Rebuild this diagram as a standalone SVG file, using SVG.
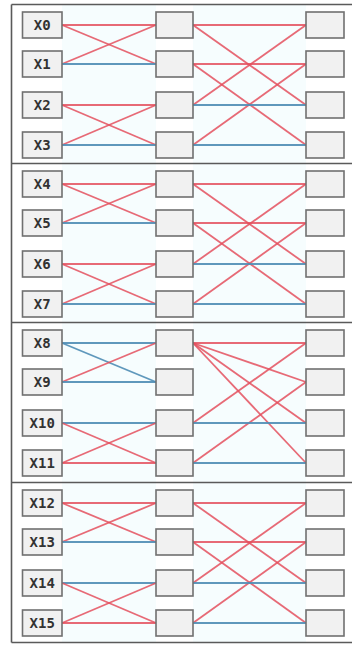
<svg xmlns="http://www.w3.org/2000/svg" width="360" height="645" viewBox="0 0 360 645">
<style>
.bx{fill:#f1f1f1;stroke:#707070;stroke-width:1.6}
.lb{font-family:"DejaVu Sans Mono","Liberation Mono",monospace;font-size:14px;font-weight:bold;fill:#333333;text-anchor:middle}
.r{stroke:#e4505e;stroke-width:1.8;fill:none;stroke-opacity:0.85}
.b{stroke:#4f8db5;stroke-width:1.8;fill:none;stroke-opacity:0.9}
.fr{stroke:#5a5a5a;stroke-width:1.6;fill:none}
.tint{fill:#f6fdfe}
</style>
<rect width="360" height="645" fill="#ffffff"/>
<g id="tints">
<rect class="tint" x="62" y="5" width="94" height="158"/>
<rect class="tint" x="193" y="5" width="113" height="158"/>
<rect class="tint" x="62" y="164" width="94" height="158"/>
<rect class="tint" x="193" y="164" width="113" height="158"/>
<rect class="tint" x="62" y="323" width="94" height="159"/>
<rect class="tint" x="193" y="323" width="113" height="159"/>
<rect class="tint" x="62" y="483" width="94" height="159"/>
<rect class="tint" x="193" y="483" width="113" height="159"/>
</g>
<g id="frame">
<line class="fr" x1="11.5" y1="4.5" x2="352" y2="4.5"/>
<line class="fr" x1="11.5" y1="163.5" x2="352" y2="163.5"/>
<line class="fr" x1="11.5" y1="322.5" x2="352" y2="322.5"/>
<line class="fr" x1="11.5" y1="482.5" x2="352" y2="482.5"/>
<line class="fr" x1="11.5" y1="642.5" x2="352" y2="642.5"/>
<line class="fr" x1="11.5" y1="4.5" x2="11.5" y2="642.5"/>
</g>
<g id="connectors">
<line class="r" x1="62" y1="25" x2="156" y2="25"/>
<line class="r" x1="62" y1="25" x2="156" y2="64"/>
<line class="r" x1="62" y1="64" x2="156" y2="25"/>
<line class="b" x1="62" y1="64" x2="156" y2="64"/>
<line class="r" x1="62" y1="105" x2="156" y2="105"/>
<line class="r" x1="62" y1="105" x2="156" y2="145"/>
<line class="r" x1="62" y1="145" x2="156" y2="105"/>
<line class="b" x1="62" y1="145" x2="156" y2="145"/>
<line class="r" x1="193" y1="25" x2="306" y2="25"/>
<line class="r" x1="193" y1="25" x2="306" y2="105"/>
<line class="r" x1="193" y1="64" x2="306" y2="64"/>
<line class="r" x1="193" y1="64" x2="306" y2="145"/>
<line class="r" x1="193" y1="105" x2="306" y2="25"/>
<line class="r" x1="193" y1="145" x2="306" y2="64"/>
<line class="b" x1="193" y1="105" x2="306" y2="105"/>
<line class="b" x1="193" y1="145" x2="306" y2="145"/>
<line class="r" x1="62" y1="184" x2="156" y2="184"/>
<line class="r" x1="62" y1="184" x2="156" y2="223"/>
<line class="r" x1="62" y1="223" x2="156" y2="184"/>
<line class="b" x1="62" y1="223" x2="156" y2="223"/>
<line class="r" x1="62" y1="264" x2="156" y2="264"/>
<line class="r" x1="62" y1="264" x2="156" y2="304"/>
<line class="r" x1="62" y1="304" x2="156" y2="264"/>
<line class="b" x1="62" y1="304" x2="156" y2="304"/>
<line class="r" x1="193" y1="184" x2="306" y2="184"/>
<line class="r" x1="193" y1="184" x2="306" y2="264"/>
<line class="r" x1="193" y1="223" x2="306" y2="223"/>
<line class="r" x1="193" y1="223" x2="306" y2="304"/>
<line class="r" x1="193" y1="264" x2="306" y2="184"/>
<line class="r" x1="193" y1="304" x2="306" y2="223"/>
<line class="b" x1="193" y1="264" x2="306" y2="264"/>
<line class="b" x1="193" y1="304" x2="306" y2="304"/>
<line class="b" x1="62" y1="343" x2="156" y2="343"/>
<line class="b" x1="62" y1="343" x2="156" y2="382"/>
<line class="r" x1="62" y1="382" x2="156" y2="343"/>
<line class="b" x1="62" y1="382" x2="156" y2="382"/>
<line class="b" x1="62" y1="423" x2="156" y2="423"/>
<line class="r" x1="62" y1="423" x2="156" y2="463"/>
<line class="r" x1="62" y1="463" x2="156" y2="423"/>
<line class="r" x1="62" y1="463" x2="156" y2="463"/>
<line class="r" x1="193" y1="343" x2="306" y2="343"/>
<line class="r" x1="193" y1="343" x2="306" y2="382"/>
<line class="r" x1="193" y1="343" x2="306" y2="423"/>
<line class="r" x1="193" y1="343" x2="306" y2="463"/>
<line class="r" x1="193" y1="423" x2="306" y2="343"/>
<line class="r" x1="193" y1="463" x2="306" y2="382"/>
<line class="b" x1="193" y1="423" x2="306" y2="423"/>
<line class="b" x1="193" y1="463" x2="306" y2="463"/>
<line class="r" x1="62" y1="503" x2="156" y2="503"/>
<line class="r" x1="62" y1="503" x2="156" y2="542"/>
<line class="r" x1="62" y1="542" x2="156" y2="503"/>
<line class="b" x1="62" y1="542" x2="156" y2="542"/>
<line class="b" x1="62" y1="583" x2="156" y2="583"/>
<line class="r" x1="62" y1="583" x2="156" y2="623"/>
<line class="r" x1="62" y1="623" x2="156" y2="583"/>
<line class="r" x1="62" y1="623" x2="156" y2="623"/>
<line class="r" x1="193" y1="503" x2="306" y2="503"/>
<line class="r" x1="193" y1="503" x2="306" y2="583"/>
<line class="r" x1="193" y1="542" x2="306" y2="542"/>
<line class="r" x1="193" y1="542" x2="306" y2="623"/>
<line class="r" x1="193" y1="583" x2="306" y2="503"/>
<line class="r" x1="193" y1="623" x2="306" y2="542"/>
<line class="b" x1="193" y1="583" x2="306" y2="583"/>
<line class="b" x1="193" y1="623" x2="306" y2="623"/>
</g>
<g id="x0"><rect class="bx" x="22.5" y="12" width="39.5" height="26"/><text class="lb" x="42.2" y="30">X0</text></g>
<g id="x1"><rect class="bx" x="22.5" y="51" width="39.5" height="26"/><text class="lb" x="42.2" y="69">X1</text></g>
<g id="x2"><rect class="bx" x="22.5" y="92" width="39.5" height="26"/><text class="lb" x="42.2" y="110">X2</text></g>
<g id="x3"><rect class="bx" x="22.5" y="132" width="39.5" height="26"/><text class="lb" x="42.2" y="150">X3</text></g>
<g id="x4"><rect class="bx" x="22.5" y="171" width="39.5" height="26"/><text class="lb" x="42.2" y="189">X4</text></g>
<g id="x5"><rect class="bx" x="22.5" y="210" width="39.5" height="26"/><text class="lb" x="42.2" y="228">X5</text></g>
<g id="x6"><rect class="bx" x="22.5" y="251" width="39.5" height="26"/><text class="lb" x="42.2" y="269">X6</text></g>
<g id="x7"><rect class="bx" x="22.5" y="291" width="39.5" height="26"/><text class="lb" x="42.2" y="309">X7</text></g>
<g id="x8"><rect class="bx" x="22.5" y="330" width="39.5" height="26"/><text class="lb" x="42.2" y="348">X8</text></g>
<g id="x9"><rect class="bx" x="22.5" y="369" width="39.5" height="26"/><text class="lb" x="42.2" y="387">X9</text></g>
<g id="x10"><rect class="bx" x="22.5" y="410" width="39.5" height="26"/><text class="lb" x="42.2" y="428">X10</text></g>
<g id="x11"><rect class="bx" x="22.5" y="450" width="39.5" height="26"/><text class="lb" x="42.2" y="468">X11</text></g>
<g id="x12"><rect class="bx" x="22.5" y="490" width="39.5" height="26"/><text class="lb" x="42.2" y="508">X12</text></g>
<g id="x13"><rect class="bx" x="22.5" y="529" width="39.5" height="26"/><text class="lb" x="42.2" y="547">X13</text></g>
<g id="x14"><rect class="bx" x="22.5" y="570" width="39.5" height="26"/><text class="lb" x="42.2" y="588">X14</text></g>
<g id="x15"><rect class="bx" x="22.5" y="610" width="39.5" height="26"/><text class="lb" x="42.2" y="628">X15</text></g>
<g id="m0"><rect class="bx" x="156" y="12" width="37" height="26"/></g>
<g id="m1"><rect class="bx" x="156" y="51" width="37" height="26"/></g>
<g id="m2"><rect class="bx" x="156" y="92" width="37" height="26"/></g>
<g id="m3"><rect class="bx" x="156" y="132" width="37" height="26"/></g>
<g id="m4"><rect class="bx" x="156" y="171" width="37" height="26"/></g>
<g id="m5"><rect class="bx" x="156" y="210" width="37" height="26"/></g>
<g id="m6"><rect class="bx" x="156" y="251" width="37" height="26"/></g>
<g id="m7"><rect class="bx" x="156" y="291" width="37" height="26"/></g>
<g id="m8"><rect class="bx" x="156" y="330" width="37" height="26"/></g>
<g id="m9"><rect class="bx" x="156" y="369" width="37" height="26"/></g>
<g id="m10"><rect class="bx" x="156" y="410" width="37" height="26"/></g>
<g id="m11"><rect class="bx" x="156" y="450" width="37" height="26"/></g>
<g id="m12"><rect class="bx" x="156" y="490" width="37" height="26"/></g>
<g id="m13"><rect class="bx" x="156" y="529" width="37" height="26"/></g>
<g id="m14"><rect class="bx" x="156" y="570" width="37" height="26"/></g>
<g id="m15"><rect class="bx" x="156" y="610" width="37" height="26"/></g>
<g id="r0"><rect class="bx" x="306" y="12" width="38" height="26"/></g>
<g id="r1"><rect class="bx" x="306" y="51" width="38" height="26"/></g>
<g id="r2"><rect class="bx" x="306" y="92" width="38" height="26"/></g>
<g id="r3"><rect class="bx" x="306" y="132" width="38" height="26"/></g>
<g id="r4"><rect class="bx" x="306" y="171" width="38" height="26"/></g>
<g id="r5"><rect class="bx" x="306" y="210" width="38" height="26"/></g>
<g id="r6"><rect class="bx" x="306" y="251" width="38" height="26"/></g>
<g id="r7"><rect class="bx" x="306" y="291" width="38" height="26"/></g>
<g id="r8"><rect class="bx" x="306" y="330" width="38" height="26"/></g>
<g id="r9"><rect class="bx" x="306" y="369" width="38" height="26"/></g>
<g id="r10"><rect class="bx" x="306" y="410" width="38" height="26"/></g>
<g id="r11"><rect class="bx" x="306" y="450" width="38" height="26"/></g>
<g id="r12"><rect class="bx" x="306" y="490" width="38" height="26"/></g>
<g id="r13"><rect class="bx" x="306" y="529" width="38" height="26"/></g>
<g id="r14"><rect class="bx" x="306" y="570" width="38" height="26"/></g>
<g id="r15"><rect class="bx" x="306" y="610" width="38" height="26"/></g>
</svg>
